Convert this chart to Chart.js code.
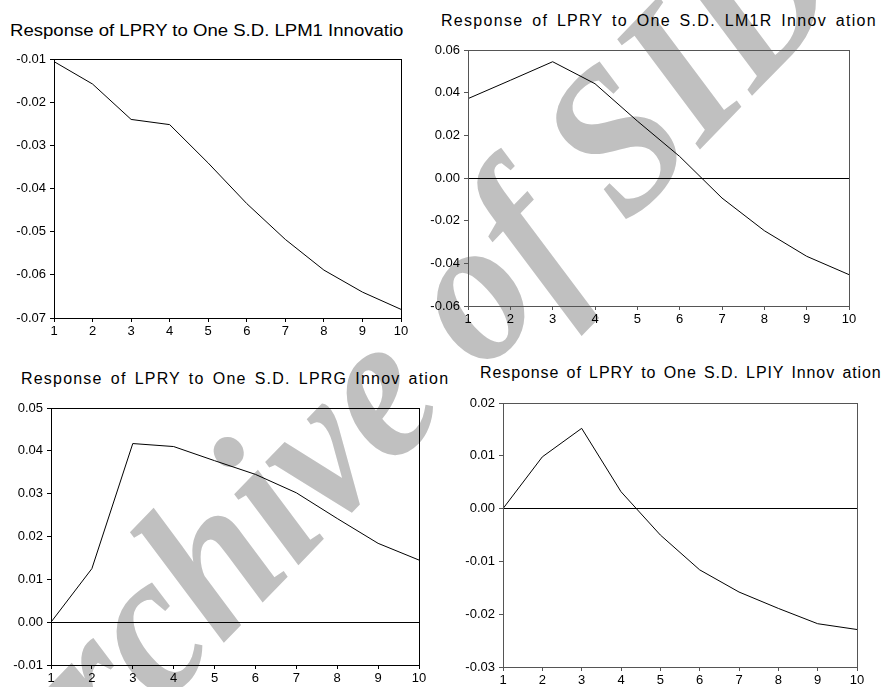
<!DOCTYPE html>
<html>
<head>
<meta charset="utf-8">
<script src="https://cdn.jsdelivr.net/npm/chart.js@4.4.1/dist/chart.umd.min.js"></script>
<style>
body { margin: 0; background: #fff; }
#page { position: relative; width: 882px; height: 687px; overflow: hidden; font-family: "Liberation Sans", Arial, sans-serif; }
canvas { position: absolute; }
.title { position: absolute; font-size: 16px; line-height: 16px; white-space: nowrap; color: #000; transform-origin: 0 50%; }
#mark { position: absolute; left: 385px; top: 375px; transform: translate(-50%, -50%) rotate(-46deg) scaleX(0.92);
        font: italic bold 208px "Liberation Serif", serif; color: #c0c0c0; white-space: nowrap; line-height: 1; }
</style>
</head>
<body>
<div id="page">
  <div id="mark">Archive of SID</div>
  <canvas id="c1"></canvas>
  <canvas id="c2"></canvas>
  <canvas id="c3"></canvas>
  <canvas id="c4"></canvas>
  <div class="title" id="t1" style="left:10px; top:23px; transform:scaleX(1.16);">Response of LPRY to One S.D. LPM1 Innovatio</div>
  <div class="title" id="t2" style="left:441px; top:13px; letter-spacing:1.3px; word-spacing:3px;">Response of LPRY to One S.D. LM1R Innov ation</div>
  <div class="title" id="t3" style="left:21px; top:371px; letter-spacing:1.2px; word-spacing:2.5px;">Response of LPRY to One S.D. LPRG Innov ation</div>
  <div class="title" id="t4" style="left:480px; top:365px; letter-spacing:0.9px; word-spacing:2px;">Response of LPRY to One S.D. LPIY Innov ation</div>
</div>
<script>
// horizon (periods after the shock)
const periods = ['1', '2', '3', '4', '5', '6', '7', '8', '9', '10'];

// impulse responses of LPRY
const respLPM1 = [-0.0106, -0.0158, -0.0240, -0.0252, -0.0341, -0.0435, -0.0518, -0.0589, -0.0640, -0.0680];
const respLM1R = [0.0372, 0.0458, 0.0545, 0.0442, 0.0267, 0.0101, -0.0094, -0.0247, -0.0367, -0.0453];
const respLPRG = [0.0000, 0.0125, 0.0417, 0.0410, 0.0377, 0.0345, 0.0302, 0.0242, 0.0184, 0.0145];
const respLPIY = [0.0000, 0.0098, 0.0152, 0.0032, -0.0050, -0.0116, -0.0158, -0.0189, -0.0218, -0.0229];

// y tick values of each panel
const ticksLPM1 = [-0.07, -0.06, -0.05, -0.04, -0.03, -0.02, -0.01];
const ticksLM1R = [-0.06, -0.04, -0.02, 0.00, 0.02, 0.04, 0.06];
const ticksLPRG = [-0.01, 0.00, 0.01, 0.02, 0.03, 0.04, 0.05];
const ticksLPIY = [-0.03, -0.02, -0.01, 0.00, 0.01, 0.02];

Chart.defaults.font.family = '"Liberation Sans", Arial, sans-serif';
Chart.defaults.font.size = 13;
Chart.defaults.color = '#000';

const AXIS_W = 50, AXIS_H = 24, PAD_T = 12, PAD_R = 16;

// box round the plot area
const framePlugin = {
  id: 'frame',
  afterDraw(chart, args, opts) {
    const a = chart.chartArea, c = chart.ctx;
    c.save();
    c.strokeStyle = opts.color || '#000';
    c.lineWidth = 1;
    c.strokeRect(Math.round(a.left) + 0.5, Math.round(a.top) + 0.5,
                 Math.round(a.right - a.left), Math.round(a.bottom - a.top));
    c.restore();
  }
};

function makePanel(id, values, yTicks, box, frameColor) {
  const cv = document.getElementById(id);
  const w = box.right - box.left + AXIS_W + PAD_R;
  const h = box.bottom - box.top + PAD_T + AXIS_H;
  cv.width = w;
  cv.height = h;
  cv.style.left = (box.left - AXIS_W) + 'px';
  cv.style.top = (box.top - PAD_T) + 'px';
  cv.style.width = w + 'px';
  cv.style.height = h + 'px';

  return new Chart(cv, {
    type: 'line',
    data: {
      labels: periods,
      datasets: [{ data: values, borderColor: '#000', borderWidth: 1, pointRadius: 0, tension: 0, fill: false }]
    },
    options: {
      responsive: false,
      animation: false,
      devicePixelRatio: 1,
      layout: { padding: { top: PAD_T, right: PAD_R, left: 0, bottom: 0 } },
      plugins: { legend: { display: false }, tooltip: { enabled: false }, frame: { color: frameColor } },
      scales: {
        x: {
          offset: false,
          grid: { drawOnChartArea: false, drawTicks: true, tickLength: 4, tickColor: frameColor },
          border: { display: false },
          ticks: { padding: 2, maxRotation: 0, autoSkip: false },
          afterFit: s => { s.height = AXIS_H; }
        },
        y: {
          min: yTicks[0],
          max: yTicks[yTicks.length - 1],
          afterBuildTicks: s => { s.ticks = yTicks.map(v => ({ value: v })); },
          grid: {
            // only the zero line is drawn inside the plot
            color: c => (c.tick && Math.abs(c.tick.value) < 1e-9) ? '#000' : 'rgba(0,0,0,0)',
            tickLength: 4,
            tickColor: frameColor
          },
          border: { display: false },
          ticks: { padding: 4, callback: v => v.toFixed(2) },
          afterFit: s => { s.width = AXIS_W; }
        }
      }
    },
    plugins: [framePlugin]
  });
}

makePanel('c1', respLPM1, ticksLPM1, { left: 54, top: 59, right: 401, bottom: 318 }, '#000');
makePanel('c2', respLM1R, ticksLM1R, { left: 468, top: 50, right: 849, bottom: 306 }, '#555');
makePanel('c3', respLPRG, ticksLPRG, { left: 51, top: 408, right: 419, bottom: 665 }, '#000');
makePanel('c4', respLPIY, ticksLPIY, { left: 503, top: 403, right: 857, bottom: 667 }, '#555');
</script>
</body>
</html>
